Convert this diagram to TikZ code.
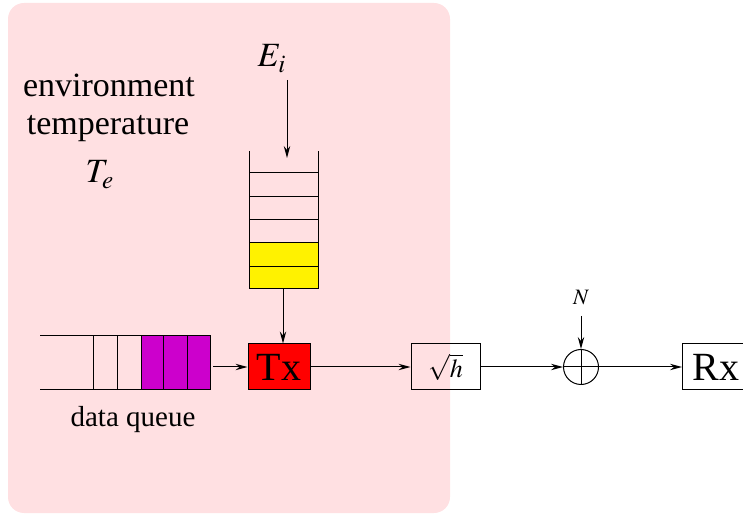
\documentclass[tikz,border=0pt]{standalone}
\usepackage{mathptmx}
\usepackage{fontspec}
\setmainfont{Liberation Serif}
\usepackage{tikz}
\usetikzlibrary{arrows.meta}
\usetikzlibrary{positioning}

\definecolor{bgpink}{RGB}{255,224,226}
\definecolor{qmagenta}{RGB}{204,0,204}

\tikzset{
  flow/.style={-{Stealth[length=6pt,width=3.2pt,inset=2pt]}, line width=0.5pt},
  blockbox/.style={draw, line width=0.5pt, inner sep=0pt, minimum width=31pt, minimum height=23pt},
  bigtext/.style={anchor=base, font=\fontsize{17}{20}\selectfont},
}

\begin{document}
\begin{tikzpicture}[x=0.5pt,y=-0.5pt]
\useasboundingbox (0,0) rectangle (743,517);

% background region
\fill[bgpink, rounded corners=8pt] (8,3) rectangle (450,513);

\node[bigtext] (env) at (109,97) {environment};
\node[bigtext] (temp) at (108,135) {temperature};
\node[bigtext] (te) at (100,183) {$T_e$};

% energy queue
\node[bigtext] (ei) at (272,67) {$E_i$};
\fill[yellow] (249,243) rectangle (318,289);
\draw[line width=0.5pt] (249,151) -- (249,289) -- (318,289) -- (318,151);
\foreach \y in {173,197,220,243,267}
  \draw[line width=0.5pt] (249,\y) -- (318,\y);
\coordinate (etop) at (287,158);
\coordinate (ebot) at (283,289);
\draw[flow] (287,80) -- (etop);

% data queue
\fill[qmagenta] (141,336) rectangle (210,390);
\draw[line width=0.5pt] (40,336) -- (210,336) -- (210,390) -- (40,390);
\foreach \x in {93,117,141,163,187}
  \draw[line width=0.5pt] (\x,336) -- (\x,390);
\coordinate (dq) at (213,367);
\node (dqlabel) at (133,420) {\fontsize{14.5}{17}\selectfont data queue};

% blocks
\node[blockbox, fill=red] (tx) at (279,367) {\fontsize{20}{22}\selectfont Tx};
\node[blockbox, minimum width=34.5pt] (ch) at (445.5,367) {\fontsize{13}{15}\selectfont $\sqrt{h}$};
\node[draw, circle, line width=0.5pt, minimum size=17.5pt, inner sep=0pt] (sum) at (581,367) {};
\draw[line width=0.5pt] (sum.north) -- (sum.south) (sum.west) -- (sum.east);
\node[blockbox, minimum width=32pt, anchor=west] (rx) at (682,367) {\fontsize{20}{22}\selectfont\ Rx\hphantom{x}};
\node (n) at (581,298) {\fontsize{11}{13}\selectfont $N$};
\coordinate (ntop) at (581,316);

% connectors
\draw[flow] (ebot) -- (tx.north -| ebot);
\draw[flow] (dq) -- (tx.west);
\draw[flow] (tx.east) -- (ch.west);
\draw[flow] (ch.east) -- (sum.west);
\draw[flow] (ntop) -- (sum.north);
\draw[flow] (sum.east) -- (rx.west);

\end{tikzpicture}
\end{document}
